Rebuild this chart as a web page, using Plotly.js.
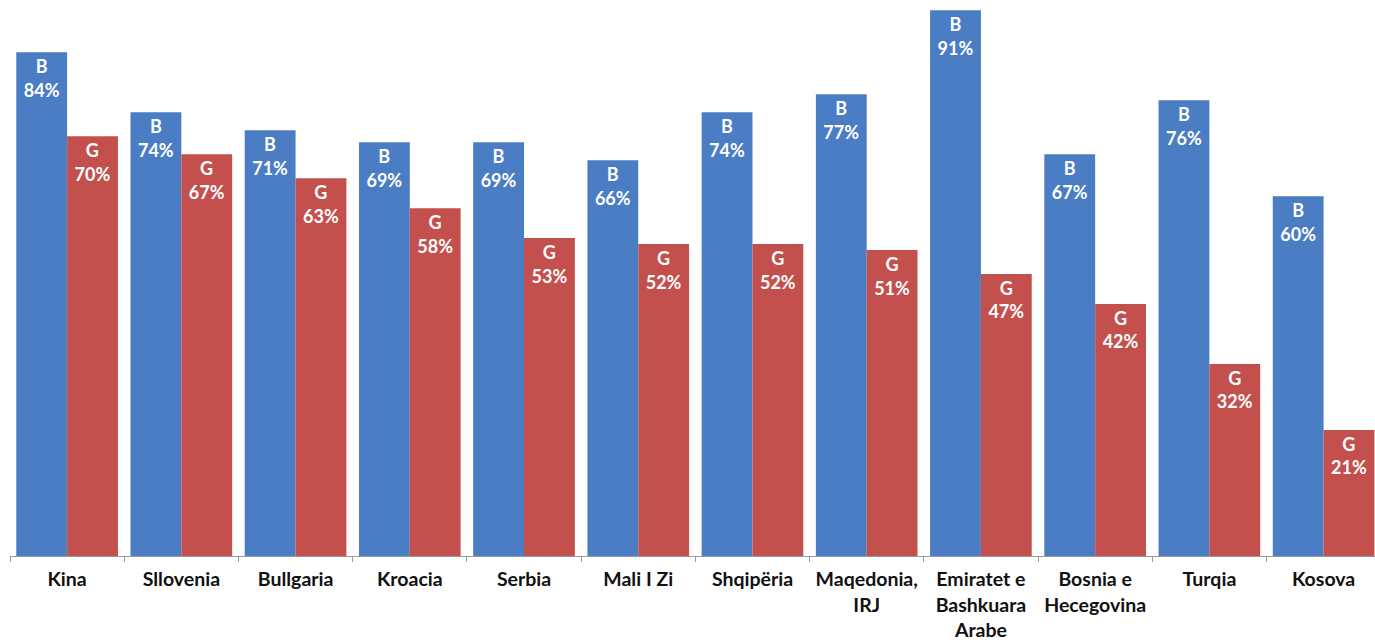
<!DOCTYPE html>
<html><head><meta charset="utf-8">
<script src="https://cdn.plot.ly/plotly-3.0.1.min.js"></script>
<style>html,body{margin:0;padding:0;background:#fff}#chart{width:1375px;height:643px}</style>
</head><body><div id="chart"></div>
<script>
const categories = ["Kina","Sllovenia","Bullgaria","Kroacia","Serbia","Mali I Zi","Shqipëria","Maqedonia,<br>IRJ","Emiratet e<br>Bashkuara<br>Arabe","Bosnia e<br>Hecegovina","Turqia","Kosova"];
const boysValues = [84,74,71,69,69,66,74,77,91,67,76,60];
const girlsValues = [70,67,63,58,53,52,52,51,47,42,32,21];
const boysLabel = "B";
const girlsLabel = "G";

const txtFont = {family:"Lato, 'Open Sans', sans-serif", size:18, color:"#ffffff", weight:700};
function mk(vals, name, color){
  return {type:"bar", x:categories, y:vals, name:name,
    marker:{color:color},
    text: vals.map(v => "<b>"+name+"<br>"+v+"%</b>"),
    textposition:"inside", insidetextanchor:"end", textangle:0,
    constraintext:"none", textfont:txtFont, hoverinfo:"none"};
}
const data = [mk(boysValues, boysLabel, "#4A7DC4"), mk(girlsValues, girlsLabel, "#C4504D")];
const layout = {
  width:1375, height:643, margin:{l:10,r:0,t:0,b:87},
  paper_bgcolor:"#fff", plot_bgcolor:"#fff",
  barmode:"group", bargap:0.11, bargroupgap:0, showlegend:false,
  xaxis:{type:"category", range:[-0.5,11.45], showline:true, linecolor:"#9a9a9a", linewidth:1,
    ticks:"outside", tickson:"boundaries", ticklen:5, tickcolor:"#9a9a9a",
    ticklabelstandoff:6,
    tickfont:{family:"Lato, 'Open Sans', sans-serif", size:19.5, color:"#111", weight:700},
    showgrid:false, zeroline:false, fixedrange:true},
  yaxis:{range:[0,92.7], visible:false, showgrid:false, zeroline:false, fixedrange:true}
};
Plotly.newPlot("chart", data, layout, {staticPlot:true});
</script></body></html>
